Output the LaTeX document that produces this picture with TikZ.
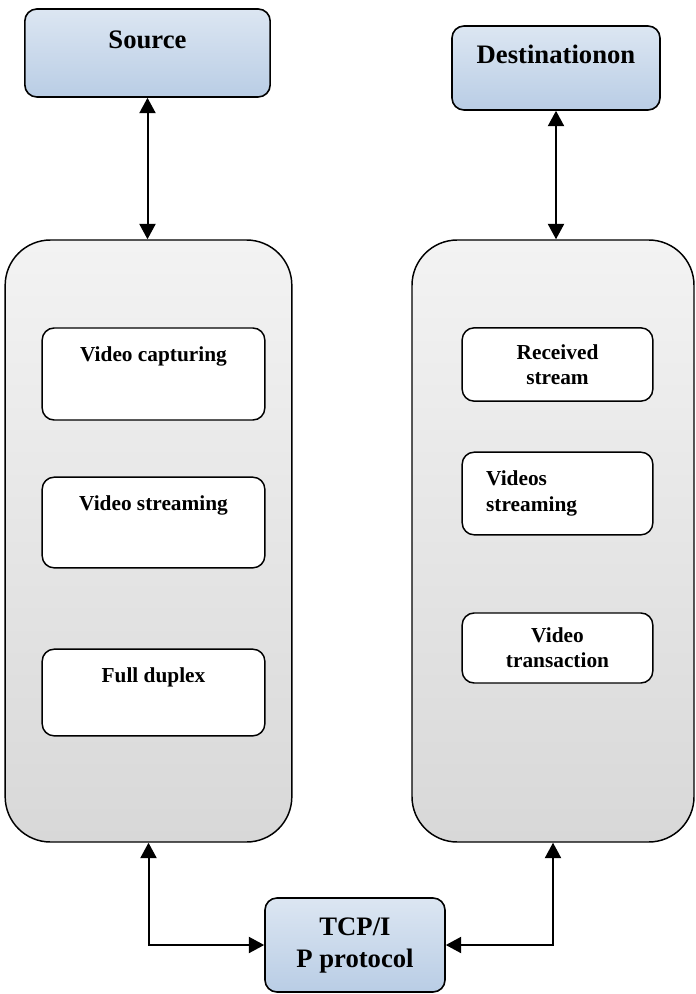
\documentclass[tikz,border=0pt]{standalone}
\usepackage{fontspec}
\setmainfont{Liberation Serif}
\usetikzlibrary{arrows.meta}
\definecolor{headtop}{RGB}{220,230,242}
\definecolor{headbot}{RGB}{185,205,229}
\definecolor{paneltop}{RGB}{243,243,243}
\definecolor{panelbot}{RGB}{216,216,216}
\tikzset{
  head/.style={draw, line width=1.2pt, rounded corners=9pt, top color=headtop, bottom color=headbot},
  panel/.style={draw, line width=1.1pt, rounded corners=34pt, top color=paneltop, bottom color=panelbot, minimum height=451.5pt},
  inbox/.style={draw, line width=1.1pt, rounded corners=9pt, fill=white},
  headtext/.style={font=\fontsize{20}{24}\selectfont\bfseries, inner sep=0pt},
  intext/.style={font=\fontsize{16}{19}\selectfont\bfseries, inner sep=0pt},
  link/.style={line width=1.5pt, {Triangle[length=11.5pt,width=12pt]}-{Triangle[length=11.5pt,width=12pt]}}
}
\begin{document}
\begin{tikzpicture}[x=0.75pt,y=-0.75pt]
  \useasboundingbox (0,0) rectangle (695,994);
  \node[head, minimum width=184pt, minimum height=66pt] (src) at (147.5,53) {};
  \node[headtext, anchor=base] (srct) at ([yshift=-30.5pt]src.north) {Source};
  \node[head, minimum width=156pt, minimum height=63pt] (dst) at (556,68) {};
  \node[headtext, anchor=base] (dstt) at ([yshift=-29pt]dst.north) {Destinationon};
  \node[head, headtext, align=center, minimum width=135pt, minimum height=70.5pt] (tcp) at (355,945) {TCP/I\\P protocol};
  \node[panel, minimum width=215pt] (lbig) at (148.5,541) {};
  \node[panel, minimum width=211.5pt] (rbig) at (553,541) {};
  \foreach \x/\y/\h/\t in {1/374/69pt/Video capturing, 2/522.5/68pt/Video streaming, 3/692.5/65pt/Full duplex}{
    \node[inbox, minimum width=167pt, minimum height=\h] (L\x) at (153.5,\y) {};
    \node[intext, anchor=base] (Lt\x) at ([yshift=-25.5pt]L\x.north) {\t};
  }
  \node[inbox, intext, align=center, minimum width=143pt, minimum height=55pt] (R1) at (557.5,364.5) {Received\\stream};
  \node[inbox, intext, align=left, text width=107pt, minimum width=143pt, minimum height=62pt] (R2) at (557.5,493.5) {Videos\\streaming};
  \node[inbox, intext, align=center, minimum width=143pt, minimum height=52.5pt] (R3) at (557.5,648) {Video\\transaction};
  \draw[link] (src.south) -- (src.south |- lbig.north);
  \draw[link] (dst.south) -- (dst.south |- rbig.north);
  \draw[link] (lbig.south) |- (tcp.west);
  \draw[link] (rbig.south) |- (tcp.east);
\end{tikzpicture}
\end{document}
